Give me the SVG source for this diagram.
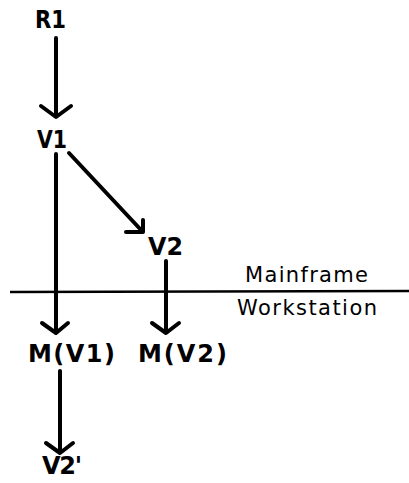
<svg xmlns="http://www.w3.org/2000/svg" width="409" height="483" viewBox="0 0 409 483">
<style>
.t{font-family:"DejaVu Sans","Liberation Sans",sans-serif;font-weight:bold;font-size:24px;fill:#000}
.s{font-family:"DejaVu Sans","Liberation Sans",sans-serif;font-size:21px;fill:#000}
.c{stroke:#000;stroke-width:4;fill:none;stroke-linecap:round;stroke-linejoin:round}
.h{stroke:#000;stroke-width:4;fill:none;stroke-linecap:round;stroke-linejoin:round}
</style>
<rect width="409" height="483" fill="#fff"/>
<g id="connectors">
<line class="c" x1="56" y1="38" x2="56" y2="116"/>
<polyline class="h" points="41,106 56,117 71,106"/>
<line class="c" x1="69" y1="153" x2="142" y2="231"/>
<polyline class="h" points="126,232 143,232 143,220"/>
<line class="c" x1="56" y1="154" x2="56" y2="332"/>
<polyline class="h" points="42,323 56,333 68,323"/>
<line class="c" x1="166" y1="261" x2="166" y2="332"/>
<polyline class="h" points="152,323 166,333 179,323"/>
<line class="c" x1="60" y1="371" x2="60" y2="451"/>
<polyline class="h" points="46,443 60,453 73,443"/>
<line x1="10" y1="292" x2="409" y2="291" stroke="#000" stroke-width="2.5"/>
</g>
<g id="R1"><text class="t" x="35" y="28" textLength="31" lengthAdjust="spacingAndGlyphs">R1</text></g>
<g id="V1"><text class="t" x="37" y="148" textLength="30" lengthAdjust="spacingAndGlyphs">V1</text></g>
<g id="V2"><text class="t" x="148" y="255" textLength="35" lengthAdjust="spacingAndGlyphs">V2</text></g>
<g id="MV1"><text class="t" x="28" y="362" textLength="87" lengthAdjust="spacing">M(V1)</text></g>
<g id="MV2"><text class="t" x="138" y="362" textLength="89" lengthAdjust="spacing">M(V2)</text></g>
<g id="V2p"><text class="t" x="42" y="474" textLength="40" lengthAdjust="spacing">V2'</text></g>
<g id="labels">
<text class="s" x="245" y="282" textLength="123" lengthAdjust="spacing">Mainframe</text>
<text class="s" x="237" y="315" textLength="140" lengthAdjust="spacing">Workstation</text>
</g>
</svg>
